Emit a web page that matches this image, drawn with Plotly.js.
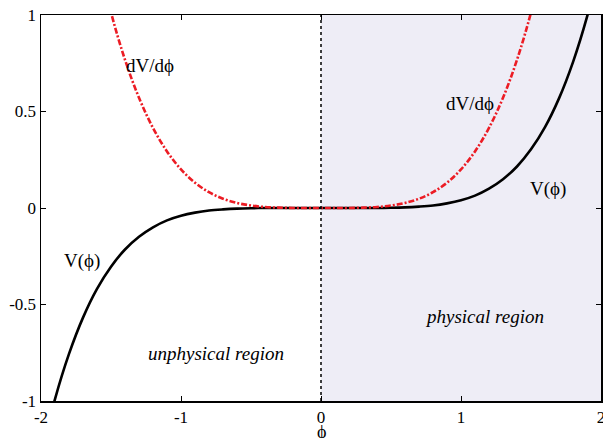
<!DOCTYPE html>
<html>
<head>
<meta charset="utf-8">
<script src="https://cdn.plot.ly/plotly-3.0.1.min.js"></script>
<style>
  html, body { margin: 0; padding: 0; background: #fff; }
  #chart { width: 603px; height: 438px; }
</style>
</head>
<body>
<div id="chart"></div>
<script>
// field values phi
const phi = [-2.0, -1.9, -1.8, -1.7, -1.6, -1.5, -1.4, -1.3, -1.2, -1.1, -1.0,
             -0.9, -0.8, -0.7, -0.6, -0.5, -0.4, -0.3, -0.2, -0.1, 0.0,
             0.1, 0.2, 0.3, 0.4, 0.5, 0.6, 0.7, 0.8, 0.9, 1.0,
             1.1, 1.2, 1.3, 1.4, 1.5, 1.6, 1.7, 1.8, 1.9, 2.0];

// potential V(phi)
const potential = [-1.280, -0.990, -0.756, -0.568, -0.419, -0.304, -0.215, -0.149, -0.100, -0.064, -0.040,
                   -0.024, -0.013, -0.007, -0.003, -0.001, 0.000, 0.000, 0.000, 0.000, 0.000,
                   0.000, 0.000, 0.000, 0.000, 0.001, 0.003, 0.007, 0.013, 0.024, 0.040,
                   0.064, 0.100, 0.149, 0.215, 0.304, 0.419, 0.568, 0.756, 0.990, 1.280];

// derivative dV/dphi
const derivative = [3.200, 2.606, 2.100, 1.670, 1.311, 1.013, 0.768, 0.571, 0.415, 0.293, 0.200,
                    0.131, 0.082, 0.048, 0.026, 0.013, 0.005, 0.002, 0.000, 0.000, 0.000,
                    0.000, 0.000, 0.002, 0.005, 0.013, 0.026, 0.048, 0.082, 0.131, 0.200,
                    0.293, 0.415, 0.571, 0.768, 1.013, 1.311, 1.670, 2.100, 2.606, 3.200];

const xTickVals = [-2, -1, 0, 1, 2];
const xTickText = ['-2', '-1', '0', '1', '2'];
const yTickVals = [-1, -0.5, 0, 0.5, 1];
const yTickText = ['-1', '-0.5', '0', '0.5', '1'];

const serif = 'Liberation Serif';
const labelFont = { family: serif, size: 19, color: '#000' };

const traces = [
  {
    x: phi, y: potential, type: 'scatter', mode: 'lines',
    line: { color: '#000000', width: 2.6, shape: 'spline', smoothing: 1 },
    hoverinfo: 'skip'
  },
  {
    x: phi, y: derivative, type: 'scatter', mode: 'lines',
    line: { color: 'rgb(236,28,36)', width: 2.6, shape: 'spline', smoothing: 1, dash: '6px,2px,2px,2px' },
    hoverinfo: 'skip'
  }
];

const axisCommon = {
  showgrid: false, zeroline: false,
  showline: true, linecolor: '#000', linewidth: 1.5, mirror: 'ticks',
  ticks: 'inside', ticklen: 5, tickwidth: 1, tickcolor: '#000',
  tickfont: { family: serif, size: 17, color: '#000' },
  tickmode: 'array', fixedrange: true, ticklabeloverflow: 'allow'
};

const layout = {
  width: 603, height: 438,
  margin: { l: 41, r: 2, t: 15, b: 37 },
  paper_bgcolor: '#fff', plot_bgcolor: '#fff',
  showlegend: false,
  font: { family: serif, color: '#000' },
  xaxis: Object.assign({}, axisCommon, {
    range: [-2, 2], tickvals: xTickVals, ticktext: xTickText
  }),
  yaxis: Object.assign({}, axisCommon, {
    range: [-1, 1], tickvals: yTickVals, ticktext: yTickText
  }),
  shapes: [
    { type: 'rect', layer: 'below', xref: 'x', yref: 'y', x0: 0, x1: 2, y0: -1, y1: 1,
      fillcolor: '#eeedf6', line: { width: 0 } },
    { type: 'line', layer: 'above', xref: 'x', yref: 'y', x0: 0, x1: 0, y0: -1, y1: 1,
      line: { color: '#000', width: 1.5, dash: 'dot' } }
  ],
  annotations: [
    // x-axis title, set just below the tick labels
    { xref: 'x', yref: 'paper', x: 0, y: 0, yanchor: 'top', yshift: -19, text: 'ϕ',
      showarrow: false, font: { family: serif, size: 18, color: '#000' } },
    { x: -1.22, y: 0.736, text: 'dV/dϕ', showarrow: false, font: labelFont },
    { x: 1.064, y: 0.544, text: 'dV/dϕ', showarrow: false, font: labelFont },
    { x: -1.707, y: -0.275, text: 'V(ϕ)', showarrow: false, font: labelFont },
    { x: 1.621, y: 0.098, text: 'V(ϕ)', showarrow: false, font: labelFont },
    { x: -0.75, y: -0.756, text: '<i>unphysical region</i>', showarrow: false, font: labelFont },
    { x: 1.171, y: -0.56, text: '<i>physical region</i>', showarrow: false, font: labelFont }
  ]
};

Plotly.newPlot('chart', traces, layout, { staticPlot: true, displayModeBar: false });
</script>
</body>
</html>
